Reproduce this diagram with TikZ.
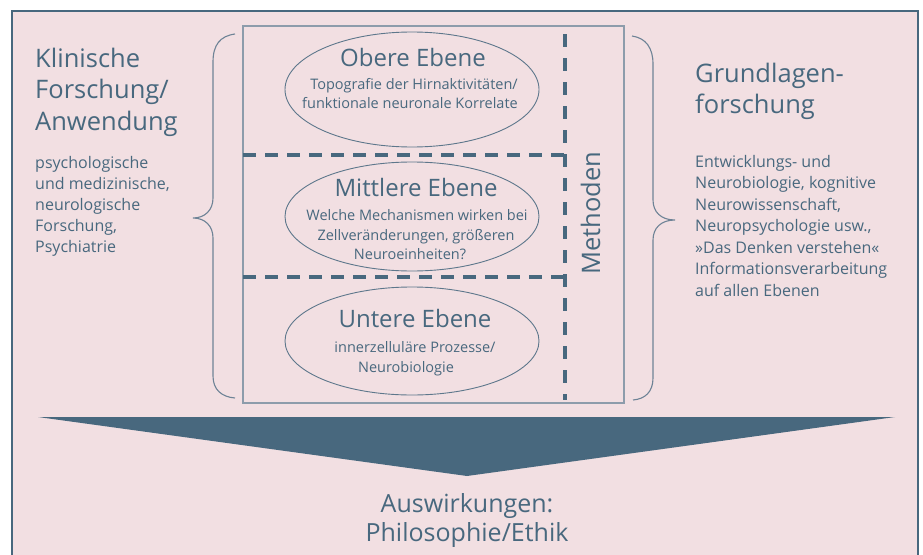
\documentclass[tikz,border=0pt]{standalone}
\usepackage{fontspec}
\setmainfont{Open Sans}
\usetikzlibrary{shapes.geometric}
\definecolor{bg}{HTML}{F2DFE2}
\definecolor{ink}{HTML}{48687E}
\definecolor{frame}{HTML}{8D9CAB}
\definecolor{oval}{HTML}{5D778B}
\definecolor{bracec}{HTML}{6E8396}
\begin{document}
\begin{tikzpicture}[x=1pt,y=-1pt,
  txt/.style={inner sep=0pt, text=ink},
  big/.style={txt, font=\fontsize{25.5}{30}\selectfont},
  small/.style={txt, font=\fontsize{16}{20}\selectfont},
  ttl/.style={txt, font=\fontsize{24}{28}\selectfont},
  sub/.style={txt, font=\fontsize{14.5}{18}\selectfont},
  level/.style={draw=oval, line width=0.9pt, ellipse, minimum width=254pt, inner sep=0pt},
  dashline/.style={draw=ink, line width=3.2pt},
  bracket/.style={draw=bracec, line width=1.1pt},
]
\useasboundingbox (0,0) rectangle (923,554);
\clip (0,0) rectangle (923,554);
\fill[white] (0,0) rectangle (923,554);
% outer panel
\draw[ink, fill=bg, line width=1.4pt] (12,11) rectangle (918,580);

% central box
\node[draw=frame, line width=1.3pt, minimum width=381pt, minimum height=377pt, inner sep=0pt] (core) at (433.5,214.5) {};

% level ellipses
\node[level, minimum height=115pt] (obere) at (412,89.5) {};
\node[level, minimum height=109pt] (mittlere) at (412,216.5) {};
\node[level, minimum height=108pt] (untere) at (412,341) {};

% dashed separators
\coordinate (vt) at (565,34);
\coordinate (vb) at (565,400);
\coordinate (h1l) at (243,155);
\coordinate (h1r) at (565,155);
\coordinate (h2l) at (243,277);
\coordinate (h2r) at (565,277);
\draw[dashline, dash pattern=on 13pt off 11pt] (vt) -- (vb);
\draw[dashline, dash pattern=on 13pt off 9pt] (h1l) -- (h1r);
\draw[dashline, dash pattern=on 13pt off 9pt] (h2l) -- (h2r);

% ellipse texts
\node[ttl, anchor=base] (t1) at (413,66) {Obere Ebene};
\node[sub, anchor=base] (t1a) at (414,89) {Topografie der Hirnaktivitäten/};
\node[sub, anchor=base] (t1b) at (410,108) {funktionale neuronale Korrelate};
\node[ttl, anchor=base] (t2) at (416,196) {Mittlere Ebene};
\node[sub, anchor=base] (t2a) at (417,220) {Welche Mechanismen wirken bei};
\node[sub, anchor=base] (t2b) at (416,240) {Zellveränderungen, größeren};
\node[sub, anchor=base] (t2c) at (410,259) {Neuroeinheiten?};
\node[ttl, anchor=base] (t3) at (415,327) {Untere Ebene};
\node[sub, anchor=base] (t3a) at (415,352) {innerzelluläre Prozesse/};
\node[sub, anchor=base] (t3b) at (406,372) {Neurobiologie};

% Methoden
\node[big, rotate=90, anchor=base west] (meth) at (600,275) {Methoden};

% braces
\draw[bracket] (235,34) .. controls (220,36) and (213,45) .. (213,62) -- (213,198)
  .. controls (213,210) and (205,218) .. (193,218)
  .. controls (205,218) and (213,226) .. (213,238) -- (213,376)
  .. controls (213,390) and (222,397) .. (235,398);
\draw[bracket] (632,36) .. controls (646,38) and (653,48) .. (653,64) -- (653,200)
  .. controls (653,212) and (661,220) .. (675,220)
  .. controls (661,220) and (653,228) .. (653,240) -- (653,378)
  .. controls (653,392) and (645,399) .. (633,400);

% left texts
\node[big, anchor=base west] (k1) at (35,67) {Klinische};
\node[big, anchor=base west] (k2) at (35,98.5) {Forschung/};
\node[big, anchor=base west] (k3) at (35,130) {Anwendung};
\node[small, anchor=base west] (ks1) at (35,168) {psychologische};
\node[small, anchor=base west] (ks2) at (35,189.2) {und medizinische,};
\node[small, anchor=base west] (ks3) at (35,210.4) {neurologische};
\node[small, anchor=base west] (ks4) at (35,231.6) {Forschung,};
\node[small, anchor=base west] (ks5) at (35,252.8) {Psychiatrie};

% right texts
\node[big, anchor=base west] (g1) at (695,82) {Grundlagen-};
\node[big, anchor=base west] (g2) at (695,113.5) {forschung};
\node[small, anchor=base west] (gs1) at (695,167) {Entwicklungs- und};
\node[small, anchor=base west] (gs2) at (695,188.5) {Neurobiologie, kognitive};
\node[small, anchor=base west] (gs3) at (695,210) {Neurowissenschaft,};
\node[small, anchor=base west] (gs4) at (695,231.5) {Neuropsychologie usw.,};
\node[small, anchor=base west] (gs5) at (695,253) {»Das Denken verstehen«};
\node[small, anchor=base west] (gs6) at (695,274.5) {Informationsverarbeitung};
\node[small, anchor=base west] (gs7) at (695,296) {auf allen Ebenen};

% big arrow
\fill[ink] (38,417) -- (895,417) -- (467,476) -- cycle;

% bottom text
\node[ttl, font=\fontsize{25}{29}\selectfont, anchor=base] (a1) at (467,512) {Auswirkungen:};
\node[ttl, font=\fontsize{25}{29}\selectfont, anchor=base] (a2) at (467,541.5) {Philosophie/Ethik};
\end{tikzpicture}
\end{document}
